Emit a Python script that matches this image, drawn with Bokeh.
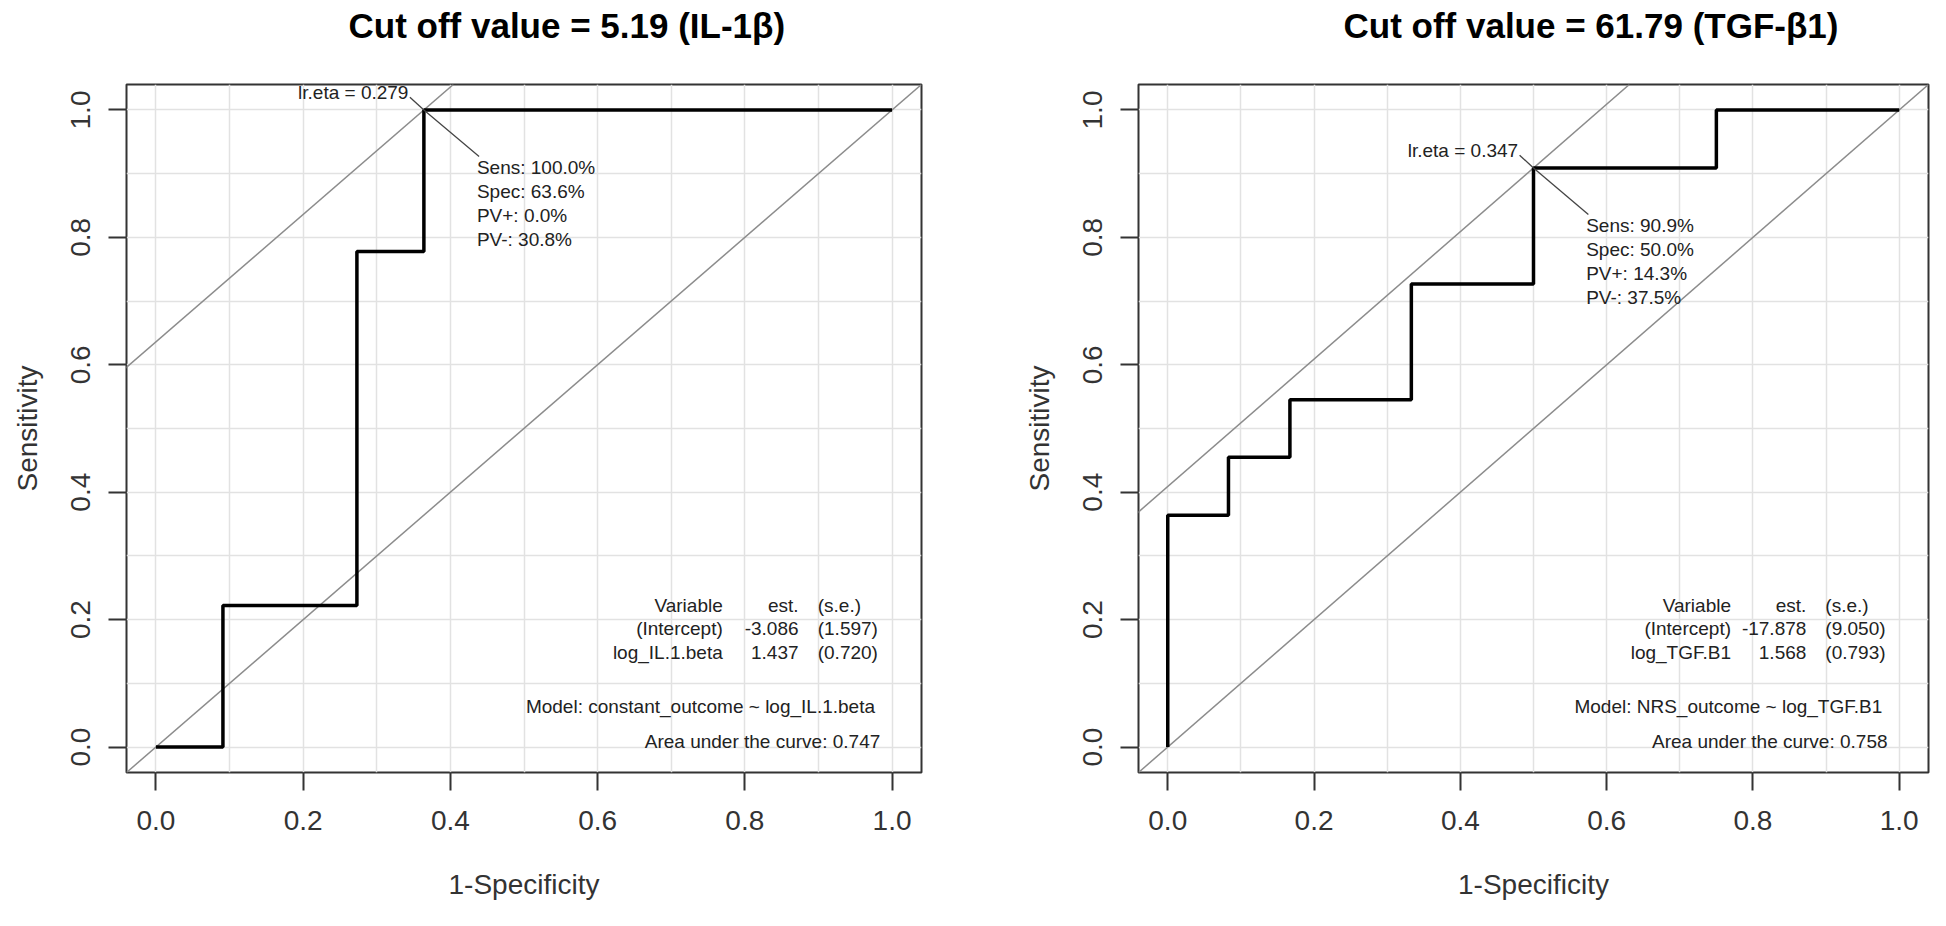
from bokeh.plotting import figure
from bokeh.models import (Range1d, FixedTicker, Slope, PrintfTickFormatter,
                          LinearAxis, Title, CustomJSTickFormatter)
from bokeh.layouts import row
from bokeh.embed import file_html
from bokeh.resources import INLINE
from bokeh.core.properties import value

# ---------------- data ----------------
titles = ["Cut off value = 5.19 (IL-1\u03b2)", "Cut off value = 61.79 (TGF-\u03b21)"]

# ROC step points (1-specificity, sensitivity)
il_fpr = [0.0, 0.091, 0.273, 0.364, 1.0]
il_tpr = [0.0, 0.222, 0.778, 1.0, 1.0]
tgf_fpr = [0.0, 0.0, 0.083, 0.167, 0.333, 0.5, 0.75, 1.0]
tgf_tpr = [0.0, 0.364, 0.455, 0.545, 0.727, 0.909, 1.0, 1.0]

# optimal cut-off points
il_opt = [0.364, 1.0]
tgf_opt = [0.5, 0.909]
il_eta = "lr.eta = 0.279"
tgf_eta = "lr.eta = 0.347"
il_stats = ["Sens: 100.0%", "Spec: 63.6%", "PV+: 0.0%", "PV-: 30.8%"]
tgf_stats = ["Sens: 90.9%", "Spec: 50.0%", "PV+: 14.3%", "PV-: 37.5%"]

# model tables
il_var = ["Variable", "(Intercept)", "log_IL.1.beta"]
il_est = ["est.", "-3.086", "1.437"]
il_se = ["(s.e.)", "(1.597)", "(0.720)"]
il_model = "Model:  constant_outcome ~ log_IL.1.beta"
il_auc = "Area under the curve: 0.747"

tgf_var = ["Variable", "(Intercept)", "log_TGF.B1"]
tgf_est = ["est.", "-17.878", "1.568"]
tgf_se = ["(s.e.)", "(9.050)", "(0.793)"]
tgf_model = "Model:  NRS_outcome ~ log_TGF.B1"
tgf_auc = "Area under the curve: 0.758"

axis_ticks = [0.0, 0.2, 0.4, 0.6, 0.8, 1.0]
grid_ticks = [0.0, 0.1, 0.2, 0.3, 0.4, 0.5, 0.6, 0.7, 0.8, 0.9, 1.0]

FONT = "Liberation Sans"
INK = "#333333"
TXT = "#222222"


def panel(title, title_shift, fpr, tpr, opt, eta, stats, tvar, test, tse,
          model, auc, mb_left, frame_w, mb_right):
    p = figure(frame_width=frame_w, frame_height=688,
               min_border_left=mb_left, min_border_right=mb_right,
               min_border_top=84, min_border_bottom=138,
               x_range=Range1d(-0.04, 1.04), y_range=Range1d(-0.04, 1.04),
               output_backend="svg", toolbar_location=None)
    p.background_fill_color = "white"
    p.border_fill_color = "white"
    p.outline_line_color = INK
    p.outline_line_width = 2

    xax = p.below[0]
    yax = p.left[0]
    for ax in (xax, yax):
        ax.ticker = FixedTicker(ticks=axis_ticks)
        ax.formatter = PrintfTickFormatter(format="%.1f")
        ax.axis_line_color = None
        ax.major_tick_out = 18
        ax.major_tick_in = 0
        ax.minor_tick_line_color = None
        ax.major_tick_line_color = INK
        ax.major_tick_line_width = 2
        ax.major_label_text_font = FONT
        ax.major_label_text_font_size = "28px"
        ax.major_label_text_color = INK
        ax.axis_label_text_font = FONT
        ax.axis_label_text_font_size = "28px"
        ax.axis_label_text_font_style = "normal"
        ax.axis_label_text_color = INK
    xax.axis_label = "1-Specificity"
    yax.axis_label = "Sensitivity"
    xax.major_label_standoff = 20
    yax.major_label_standoff = 18
    xax.axis_label_standoff = 36
    yax.axis_label_standoff = 26
    yax.major_label_orientation = "vertical"

    # invisible spacer axis pushes the title to the top of the canvas
    spacer = LinearAxis(ticker=FixedTicker(ticks=[0.5]), axis_line_color=None,
                        major_tick_out=40, major_tick_in=0,
                        major_tick_line_color="white",
                        major_tick_line_alpha=0.004,
                        minor_tick_line_color=None,
                        major_label_standoff=0,
                        formatter=CustomJSTickFormatter(code="return ''"),
                        major_label_text_font_size="1px")
    p.add_layout(spacer, "above")
    p.add_layout(Title(text=title, align="left", offset=title_shift,
                       standoff=0, text_font=FONT, text_font_size="35px",
                       text_font_style="bold", text_color="black"), "above")

    for g in (p.xgrid, p.ygrid):
        g.ticker = FixedTicker(ticks=grid_ticks)
        g.grid_line_color = "#e2e2e2"
        g.grid_line_width = 1.5

    ox, oy = opt
    p.add_layout(Slope(gradient=1, y_intercept=0, line_color="#8c8c8c",
                       line_width=1.5, level="underlay"))
    p.add_layout(Slope(gradient=1, y_intercept=oy - ox, line_color="#8c8c8c",
                       line_width=1.5, level="underlay"))

    p.step(fpr, tpr, mode="after", line_color="black", line_width=3.5)

    # pointers to the labels of the optimal point
    p.segment(x0=[ox, ox], y0=[oy, oy], x1=[ox - 0.019, ox + 0.075],
              y1=[oy + 0.02, oy - 0.073], line_color="#444444", line_width=1.3)
    p.text(x=[ox - 0.021], y=[oy + 0.027], text=[eta], text_align="right",
           text_baseline="middle", text_font=value(FONT),
           text_font_size="19px", text_color=TXT)
    p.text(x=[ox + 0.072] * len(stats),
           y=[oy - 0.091 - i * 0.0375 for i in range(len(stats))],
           text=stats, text_align="left", text_baseline="middle",
           text_font=value(FONT), text_font_size="19px", text_color=TXT)

    rows_y = [0.222, 0.186, 0.149]
    p.text(x=[0.77] * 3, y=rows_y, text=tvar, text_align="right",
           text_baseline="middle", text_font=value(FONT),
           text_font_size="19px", text_color=TXT)
    p.text(x=[0.873] * 3, y=rows_y, text=test, text_align="right",
           text_baseline="middle", text_font=value(FONT),
           text_font_size="19px", text_color=TXT)
    p.text(x=[0.899] * 3, y=rows_y, text=tse, text_align="left",
           text_baseline="middle", text_font=value(FONT),
           text_font_size="19px", text_color=TXT)
    p.text(x=[0.984, 0.984], y=[0.064, 0.008], text=[model, auc],
           text_align="right", text_baseline="middle", text_font=value(FONT),
           text_font_size="19px", text_color=TXT)
    return p


p1 = panel(titles[0], 222, il_fpr, il_tpr, il_opt, il_eta, il_stats,
           il_var, il_est, il_se, il_model, il_auc, 126, 795, 79)
p2 = panel(titles[1], 205, tgf_fpr, tgf_tpr, tgf_opt, tgf_eta, tgf_stats,
           tgf_var, tgf_est, tgf_se, tgf_model, tgf_auc, 138, 790, 2)

layout = row(p1, p2)
open("out.html", "w").write(file_html(layout, INLINE))
